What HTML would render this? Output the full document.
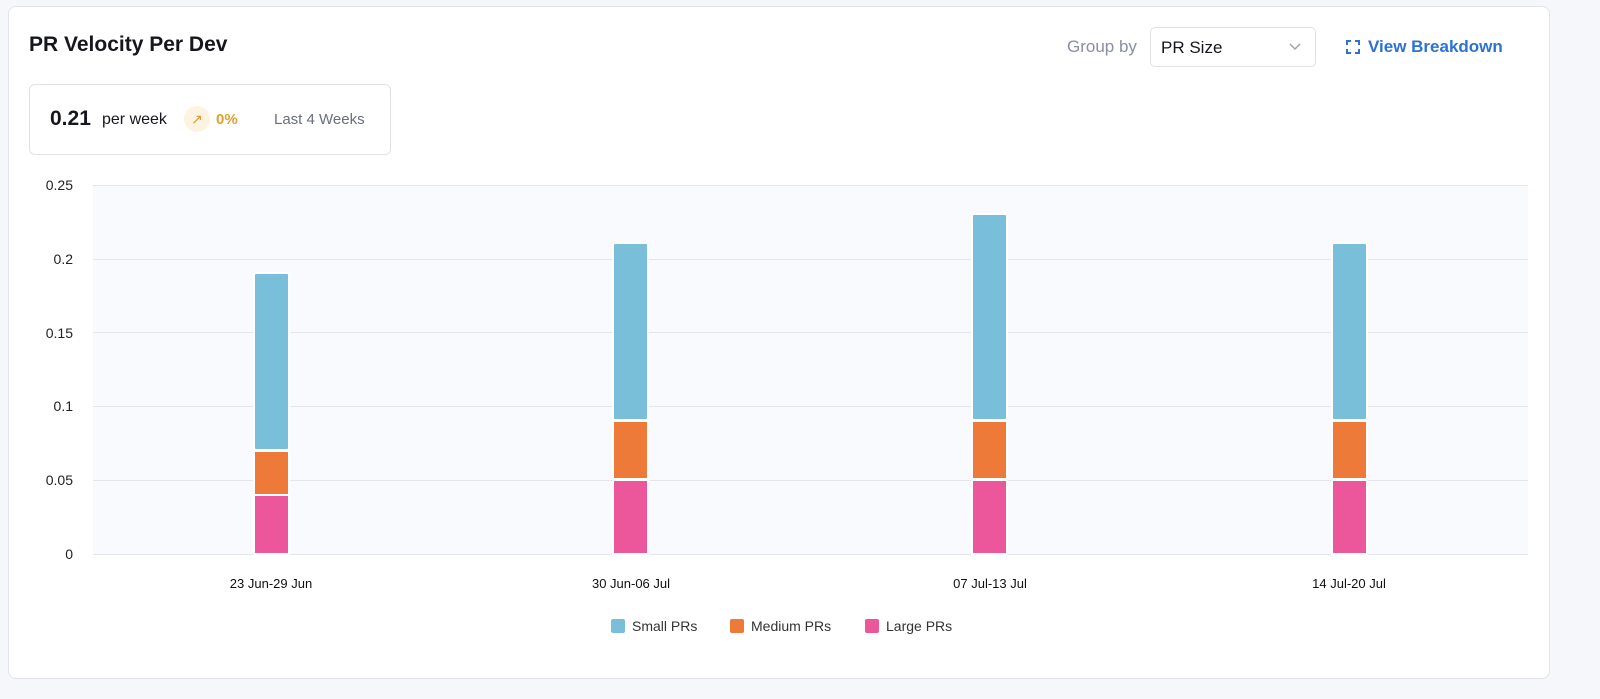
<!DOCTYPE html>
<html><head><style>
body{margin:0;width:1600px;height:699px;background:#f6f7fa;font-family:"Liberation Sans",sans-serif;overflow:hidden;position:relative}
.card{position:absolute;left:8px;top:6px;width:1540px;height:671px;background:#fff;border:1px solid #e2e4ec;border-radius:8px}
.t{position:absolute;left:29px;top:33px;font-size:21px;font-weight:bold;color:#15171c}
.stat{position:absolute;left:29px;top:84px;width:362px;height:71px;border:1px solid #e0e2ea;border-radius:6px;box-sizing:border-box}
.gb{position:absolute;left:1067px;top:37px;font-size:17px;color:#8a8ea3}
.sel{position:absolute;left:1150px;top:27px;width:166px;height:40px;box-sizing:border-box;border:1px solid #dfe1ea;border-radius:5px;font-size:17px;color:#15171c;padding:10px 0 0 10px}
.vb{position:absolute;left:1368px;top:37px;font-size:17px;font-weight:bold;color:#2d72d2}
</style></head><body>
<div class="card"></div>
<div class="t">PR Velocity Per Dev</div>
<div class="stat">
<span style="position:absolute;left:20px;top:22px;font-size:21px;font-weight:bold;color:#15171c">0.21</span>
<span style="position:absolute;left:72px;top:26px;font-size:16px;color:#15171c">per week</span>
<span style="position:absolute;left:154px;top:21px;width:26px;height:26px;border-radius:13px;background:#fdf3e0;color:#d99a2b;font-size:14px;text-align:center;line-height:26px">↗</span>
<span style="position:absolute;left:186px;top:26px;font-size:15px;font-weight:bold;color:#e0a030">0%</span>
<span style="position:absolute;left:244px;top:26px;font-size:15px;color:#6a6d80">Last 4 Weeks</span>
</div>
<div class="gb">Group by</div>
<div class="sel">PR Size<svg style="position:absolute;right:14px;top:15px" width="12" height="8"><path d="M1 1 L6 6 L11 1" stroke="#a0a3b0" stroke-width="1.5" fill="none"/></svg></div>
<svg style="position:absolute;left:1346px;top:40px" width="14" height="14"><path d="M1 5V1H5M9 1H13V5M13 9V13H9M5 13H1V9" stroke="#2d72d2" stroke-width="2" fill="none"/></svg>
<div class="vb">View Breakdown</div>
<svg style="position:absolute;left:0;top:0" width="1600" height="699" font-family="Liberation Sans, sans-serif">
<rect x="93" y="185" width="1435" height="369" fill="#f9fafd"/>
<g stroke="#e4e6ec" stroke-width="1">
<line x1="93" x2="1528" y1="185.5" y2="185.5"/><line x1="93" x2="1528" y1="259.5" y2="259.5"/><line x1="93" x2="1528" y1="332.5" y2="332.5"/><line x1="93" x2="1528" y1="406.5" y2="406.5"/><line x1="93" x2="1528" y1="480.5" y2="480.5"/><line x1="93" x2="1528" y1="554.5" y2="554.5"/>
</g>
<g font-size="14" fill="#222" text-anchor="end">
<text x="73" y="190">0.25</text><text x="73" y="264">0.2</text><text x="73" y="338">0.15</text><text x="73" y="411">0.1</text><text x="73" y="485">0.05</text><text x="73" y="559">0</text>
</g>
<g stroke="#fff" stroke-width="2">
<rect x="254" y="273" width="35" height="177" rx="2" fill="#7abfda"/>
<rect x="254" y="451" width="35" height="44" fill="#ee7a3a"/>
<rect x="254" y="495" width="35" height="59" fill="#ec579b"/>
<rect x="613" y="243" width="35" height="177" rx="2" fill="#7abfda"/>
<rect x="613" y="421" width="35" height="58" fill="#ee7a3a"/>
<rect x="613" y="480" width="35" height="74" fill="#ec579b"/>
<rect x="972" y="214" width="35" height="206" rx="2" fill="#7abfda"/>
<rect x="972" y="421" width="35" height="58" fill="#ee7a3a"/>
<rect x="972" y="480" width="35" height="74" fill="#ec579b"/>
<rect x="1332" y="243" width="35" height="177" rx="2" fill="#7abfda"/>
<rect x="1332" y="421" width="35" height="58" fill="#ee7a3a"/>
<rect x="1332" y="480" width="35" height="74" fill="#ec579b"/>
</g>
<g font-size="13" fill="#111" text-anchor="middle">
<text x="271" y="588">23 Jun-29 Jun</text><text x="631" y="588">30 Jun-06 Jul</text><text x="990" y="588">07 Jul-13 Jul</text><text x="1349" y="588">14 Jul-20 Jul</text>
</g>
<g font-size="14" fill="#333">
<rect x="611" y="619" width="14" height="14" rx="2" fill="#7abfda"/><text x="632" y="631">Small PRs</text>
<rect x="730" y="619" width="14" height="14" rx="2" fill="#ee7a3a"/><text x="751" y="631">Medium PRs</text>
<rect x="865" y="619" width="14" height="14" rx="2" fill="#ec579b"/><text x="886" y="631">Large PRs</text>
</g>
</svg>
</body></html>
